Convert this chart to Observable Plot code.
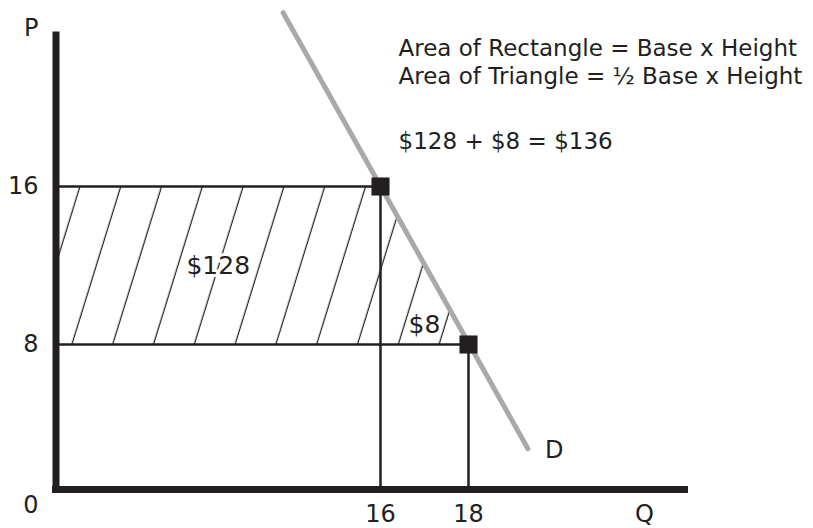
<!DOCTYPE html>
<html><head><meta charset="utf-8">
<script src="https://cdn.jsdelivr.net/npm/d3@7"></script>
<script src="https://cdn.jsdelivr.net/npm/@observablehq/plot@0.6"></script>
<style>body{margin:0;background:#fff}svg{display:block}</style>
</head><body><div id="chart"></div>
<script>
// ---- data ----
const pointQ = [16, 18];           // quantities of the two marked points
const pointP = [16, 8];            // prices of the two marked points
const demandQ = [11.2, 19.35];     // demand curve end points (Q)
const demandP = [24.8, 2.25];      // demand curve end points (P)
const areaLabels = ["$128", "$8"];
const areaLabelQ = [8, 17];
const areaLabelP = [12, 9];
const yAxisLabels = ["P", "16", "8"];
const yAxisLabelP = [24, 16, 8];
const xAxisLabels = ["16", "18", "Q"];
const xAxisLabelQ = [16, 18, 22];
const originLabel = "0";
const curveLabel = "D";
const curveLabelQ = 19.95, curveLabelP = 2.15;
const notes = ["Area of Rectangle = Base x Height", "Area of Triangle = \u00bd Base x Height", "$128 + $8 = $136"];
const noteQ = 16.41;
const noteP = [22.96, 21.57, 18.25];

// ---- derived tables ----
const ink = "#231f20";
const font = "DejaVu Sans";
const points = pointQ.map((q, i) => ({Q: q, P: pointP[i]}));
const demand = demandQ.map((q, i) => ({Q: q, P: demandP[i]}));
const hatch = points.slice().sort((a, b) => a.P - b.P);
const areaTbl = areaLabels.map((t, i) => ({t, Q: areaLabelQ[i], P: areaLabelP[i]}));
const yLab = yAxisLabels.map((t, i) => ({t, P: yAxisLabelP[i]}));
const xLab = xAxisLabels.map((t, i) => ({t, Q: xAxisLabelQ[i]}));
const noteTbl = notes.map((t, i) => ({t, P: noteP[i]}));

// schematic (piecewise) axes: the diagram is not drawn to one uniform scale
const qMap = d3.scaleLinear().domain([0, 16, 18, 23]).range([55.5, 380, 468, 688]);
const pMap = d3.scaleLinear().domain([0, 8, 24]).range([489, 344, 28]);

const chart = Plot.plot({
  width: 813, height: 528, margin: 0,
  x: {type: "linear", domain: [0, 813], range: [0, 813], transform: qMap, axis: null},
  y: {type: "linear", domain: [0, 528], range: [0, 528], transform: pMap, axis: null},
  style: {background: "white", color: ink},
  marks: [
    Plot.areaX(hatch, {y: "P", x1: 0, x2: "Q", fill: "url(#hatch)", curve: "linear"}),
    Plot.ruleY(points, {y: "P", x1: 0, x2: "Q", stroke: ink, strokeWidth: 2.5}),
    Plot.ruleX(points, {x: "Q", y1: 0, y2: "P", stroke: ink, strokeWidth: 2.5}),
    Plot.ruleX([0], {y1: 0, y2: 24, stroke: ink, strokeWidth: 7, insetBottom: -3.5, insetTop: -1}),
    Plot.ruleY([0], {x1: 0, x2: 23, stroke: ink, strokeWidth: 7, insetLeft: -3.5}),
    Plot.line(demand, {x: "Q", y: "P", stroke: "#a7a9ac", strokeWidth: 5}),
    Plot.dot(points, {x: "Q", y: "P", symbol: "square", r: 10.2, fill: ink, stroke: null}),
    Plot.text(areaTbl, {x: "Q", y: "P", text: "t", fill: ink, stroke: "white", strokeWidth: 6, fontSize: 25, fontFamily: font}),
    Plot.text(yLab, {x: 0, y: "P", text: "t", textAnchor: "end", dx: -17.5, fill: ink, fontSize: 24, fontFamily: font}),
    Plot.text([originLabel], {x: 0, y: 0, text: d => d, textAnchor: "end", dx: -17.5, dy: 16, fill: ink, fontSize: 24, fontFamily: font}),
    Plot.text(xLab, {x: "Q", y: 0, text: "t", dy: 25, fill: ink, fontSize: 24, fontFamily: font}),
    Plot.text([curveLabel], {x: curveLabelQ, y: curveLabelP, text: d => d, fill: ink, fontSize: 24, fontFamily: font}),
    Plot.text(noteTbl, {x: noteQ, y: "P", text: "t", textAnchor: "start", fill: ink, fontSize: 23, fontFamily: font})
  ]
});

// hatch pattern (style only)
const defs = d3.select(chart).insert("defs", ":first-child");
defs.append("pattern")
  .attr("id", "hatch")
  .attr("patternUnits", "userSpaceOnUse")
  .attr("width", 40.8).attr("height", 10)
  .attr("patternTransform", "skewX(-17.2)")
  .append("rect")
  .attr("x", 15.3 - 0.65).attr("y", 0)
  .attr("width", 1.3).attr("height", 10)
  .attr("fill", ink);

document.getElementById("chart").append(chart);
</script>
</body></html>
